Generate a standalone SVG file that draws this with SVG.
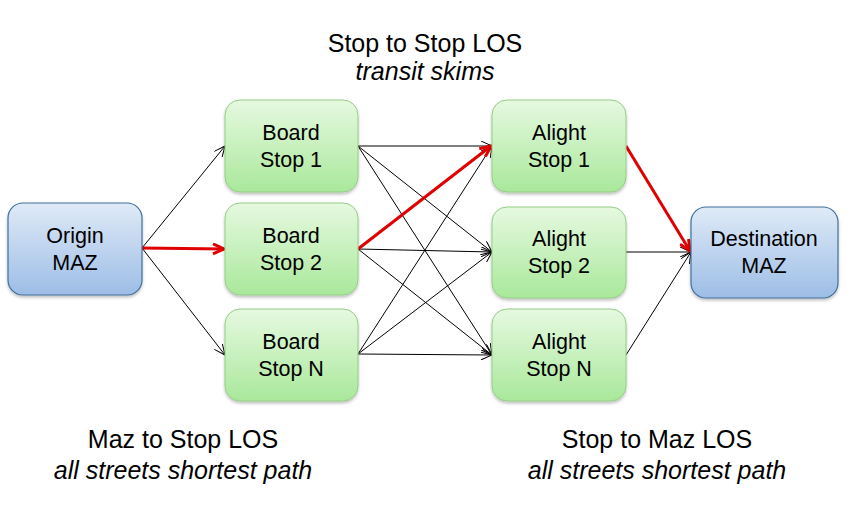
<svg xmlns="http://www.w3.org/2000/svg" width="865" height="507" viewBox="0 0 865 507">
<style>
text{font-family:"Liberation Sans",Arial,sans-serif;fill:#000;text-anchor:middle}
.n{font-size:21.5px}
.t{font-size:25px}
.i{font-size:25px;font-style:italic}
.g{fill:url(#gg);stroke:#94cc86;stroke-width:1}
.b{fill:url(#bg);stroke:#41719c;stroke-width:1.2}
.k{stroke:#000;stroke-width:1;fill:none;marker-end:url(#ak)}
.r{stroke:#e00000;stroke-width:3;fill:none;marker-end:url(#ar)}
</style>
<defs>
<linearGradient id="gg" x1="0" y1="0" x2="0" y2="1"><stop offset="0" stop-color="#e6f9e0"/><stop offset="1" stop-color="#a9e89b"/></linearGradient>
<linearGradient id="bg" x1="0" y1="0" x2="0" y2="1"><stop offset="0" stop-color="#dfeaf7"/><stop offset="1" stop-color="#9dbde6"/></linearGradient>
<marker id="ak" viewBox="0 0 12 10" refX="11" refY="5" markerWidth="12" markerHeight="10" markerUnits="userSpaceOnUse" orient="auto"><path d="M0,0 L11,5 L0,10" fill="none" stroke="#000" stroke-width="1"/></marker>
<marker id="ar" viewBox="0 0 14 12" refX="12" refY="6" markerWidth="14" markerHeight="12" markerUnits="userSpaceOnUse" orient="auto"><path d="M1,1 L12,6 L1,11" fill="none" stroke="#e00000" stroke-width="3"/></marker>
<filter id="sh" x="-10%" y="-10%" width="120%" height="130%"><feDropShadow dx="0" dy="2" stdDeviation="1.5" flood-color="#000" flood-opacity="0.25"/></filter>
</defs>
<g id="connectors">
<path class="k" d="M142,248 L225,146"/>
<path class="k" d="M142,248 L225,355"/>
<path class="k" d="M358,146 L492,146"/>
<path class="k" d="M358,146 L492,252"/>
<path class="k" d="M358,146 L492,355"/>
<path class="k" d="M358,249 L492,252"/>
<path class="k" d="M358,249 L492,355"/>
<path class="k" d="M358,354 L492,146"/>
<path class="k" d="M358,354 L492,252"/>
<path class="k" d="M358,354 L492,355"/>
<path class="k" d="M626,252 L691,252"/>
<path class="k" d="M626,355 L691,252"/>
<path class="r" d="M142,248 L224,249"/>
<path class="r" d="M358,249 L491,146"/>
<path class="r" d="M626,146 L690,251"/>
</g>
<g id="origin"><rect class="b" x="8" y="203" width="134" height="92" rx="15" filter="url(#sh)"/><text class="n" x="75" y="243">Origin</text><text class="n" x="75" y="270">MAZ</text></g>
<g id="board1"><rect class="g" x="225" y="100" width="133" height="92" rx="15" filter="url(#sh)"/><text class="n" x="291" y="140">Board</text><text class="n" x="291" y="167">Stop 1</text></g>
<g id="board2"><rect class="g" x="225" y="203" width="133" height="92" rx="15" filter="url(#sh)"/><text class="n" x="291" y="243">Board</text><text class="n" x="291" y="270">Stop 2</text></g>
<g id="boardN"><rect class="g" x="225" y="309" width="133" height="92" rx="15" filter="url(#sh)"/><text class="n" x="291" y="349">Board</text><text class="n" x="291" y="376">Stop N</text></g>
<g id="alight1"><rect class="g" x="492" y="100" width="134" height="92" rx="15" filter="url(#sh)"/><text class="n" x="559" y="140">Alight</text><text class="n" x="559" y="167">Stop 1</text></g>
<g id="alight2"><rect class="g" x="492" y="207" width="134" height="91" rx="15" filter="url(#sh)"/><text class="n" x="559" y="246">Alight</text><text class="n" x="559" y="273">Stop 2</text></g>
<g id="alightN"><rect class="g" x="492" y="309" width="134" height="92" rx="15" filter="url(#sh)"/><text class="n" x="559" y="349">Alight</text><text class="n" x="559" y="376">Stop N</text></g>
<g id="destination"><rect class="b" x="691" y="207" width="147" height="91" rx="15" filter="url(#sh)"/><text class="n" x="764" y="246">Destination</text><text class="n" x="764" y="273">MAZ</text></g>
<g id="labels">
<text class="t" x="425" y="52">Stop to Stop LOS</text>
<text class="i" x="425" y="80">transit skims</text>
<text class="t" x="183" y="448">Maz to Stop LOS</text>
<text class="i" x="183" y="479">all streets shortest path</text>
<text class="t" x="657" y="448">Stop to Maz LOS</text>
<text class="i" x="657" y="479">all streets shortest path</text>
</g>
</svg>
